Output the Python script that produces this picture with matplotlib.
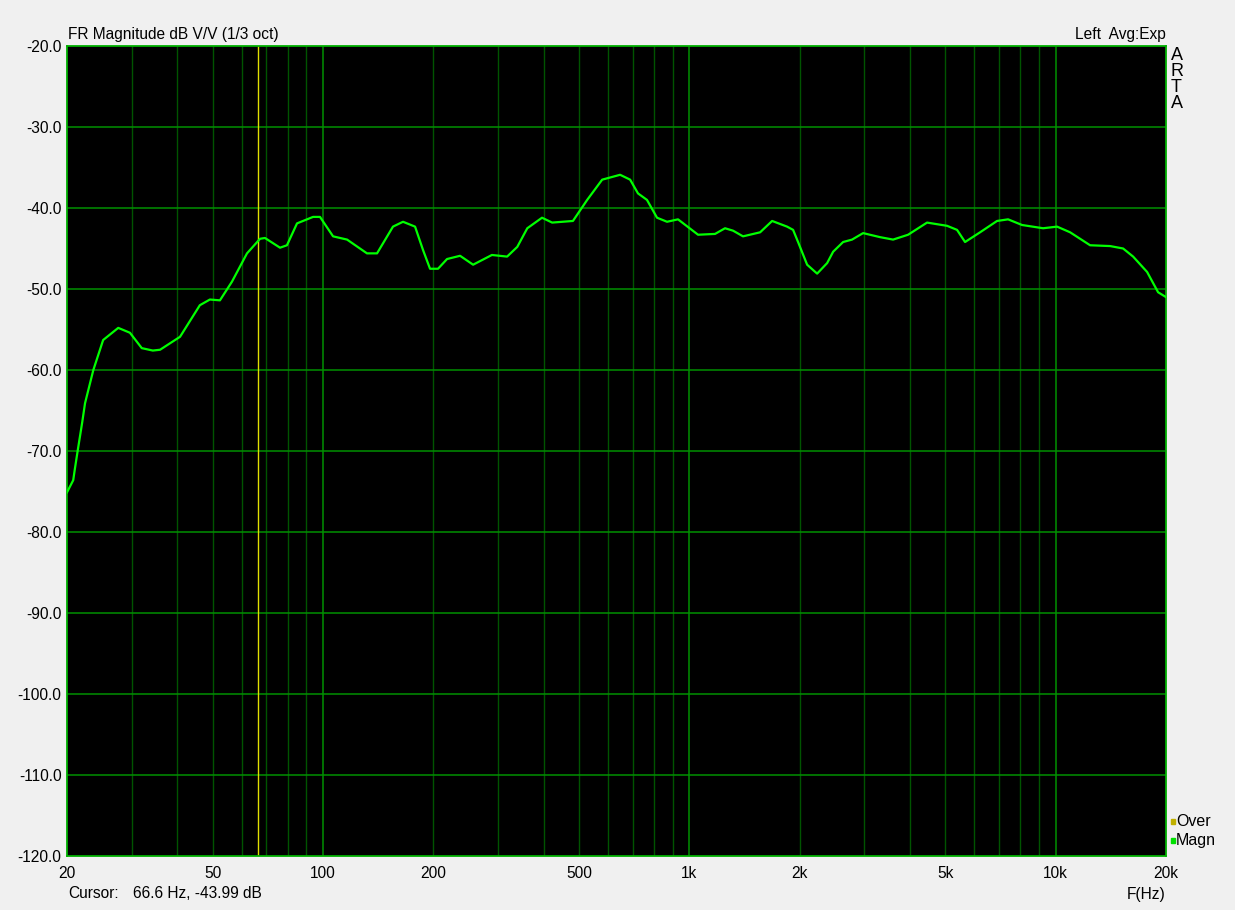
import matplotlib
matplotlib.use("Agg")
import matplotlib.pyplot as plt
from matplotlib.ticker import FixedLocator, NullFormatter

# frequency response (1/3 oct smoothed)
freq = [20, 20.8, 21.0, 21.4, 22.0, 22.4, 23.6, 25.1, 27.6, 29.7, 32.0, 34.3, 35.9,
        40.7, 46.1, 49.1, 52.3, 56.4, 62.0, 67.3, 69.4, 76.3, 79.7, 84.9, 93.9,
        98.1, 106.5, 116.3, 131.8, 140.4, 155.2, 165.3, 178.3, 187.5, 195.9, 206,
        218, 236.6, 256.8, 289, 318, 339, 361, 396, 422, 481, 526, 578, 647, 689,
        724, 766, 816, 869, 931, 1056, 1175, 1251, 1316, 1401, 1560, 1682, 1848,
        1919, 1980, 2096, 2232, 2377, 2468, 2628, 2780, 2980, 3316, 3598, 3954,
        4454, 5052, 5378, 5656, 6216, 6916, 7412, 8094, 9234, 10086, 10946, 12412,
        14076, 15274, 16266, 17762, 19030, 20000]
mag = [-75.1, -73.6, -72.3, -69.9, -66.5, -64.1, -60.0, -56.3, -54.8, -55.4, -57.3,
       -57.6, -57.5, -55.9, -52.0, -51.3, -51.4, -49.1, -45.6, -43.8, -43.7, -44.9,
       -44.6, -41.9, -41.1, -41.1, -43.5, -43.9, -45.6, -45.6, -42.3, -41.7, -42.3,
       -45.2, -47.5, -47.5, -46.3, -45.9, -47.0, -45.8, -46.0, -44.8, -42.5, -41.2,
       -41.8, -41.6, -39.0, -36.5, -35.9, -36.5, -38.2, -39.0, -41.2, -41.7, -41.4,
       -43.3, -43.2, -42.5, -42.8, -43.5, -43.0, -41.6, -42.3, -42.7, -44.2, -47.0,
       -48.1, -46.8, -45.4, -44.2, -43.9, -43.1, -43.6, -43.9, -43.3, -41.8, -42.2,
       -42.7, -44.2, -43.0, -41.6, -41.4, -42.1, -42.5, -42.3, -43.0, -44.6, -44.7,
       -45.0, -46.0, -47.9, -50.4, -51.0]

xticks = [20, 50, 100, 200, 500, 1000, 2000, 5000, 10000, 20000]
xlabels = ["20", "50", "100", "200", "500", "1k", "2k", "5k", "10k", "20k"]
yticks = list(range(-120, -19, 10))
cursor_f = 66.6
cursor_db = -43.99

plt.rcParams['font.family'] = ['Liberation Sans', 'DejaVu Sans']
fs = 11.2
fig = plt.figure(figsize=(12.35, 9.10), dpi=100, facecolor='#f0f0f0')
ax = fig.add_axes([67/1235, 54/910, 1099/1235, 810/910])
ax.set_facecolor('black')
ax.set_xscale('log')
ax.set_xlim(20, 20000)
ax.set_ylim(-120, -20)

# grid: decades and dB lines brighter, the rest darker
minor = []
for dec in [10, 100, 1000, 10000]:
    for m in range(2, 10):
        f = dec * m
        if 20 < f < 20000:
            minor.append(f)
for f in minor:
    ax.axvline(f, color='#005400', lw=1.0, zorder=1)
for f in [100, 1000, 10000]:
    ax.axvline(f, color='#009000', lw=1.1, zorder=1)
for y in yticks[1:-1]:
    ax.axhline(y, color='#009000', lw=1.1, zorder=1)

ax.axvline(cursor_f, color='#e0e000', lw=1.0, zorder=2)
ax.plot(freq, mag, color='#00ff00', lw=1.6, zorder=3)

for s in ax.spines.values():
    s.set_color('#00b000')
    s.set_linewidth(1.3)

ax.xaxis.set_major_locator(FixedLocator(xticks))
ax.set_xticklabels(xlabels)
ax.xaxis.set_minor_formatter(NullFormatter())
ax.xaxis.set_minor_locator(FixedLocator([]))
ax.set_yticks(yticks)
ax.set_yticklabels(["%.1f" % v for v in yticks])
ax.tick_params(axis='y', length=0, labelsize=fs, colors='black', pad=4)
ax.tick_params(axis='x', length=0, labelsize=fs, colors='black', pad=7)

fig.text(68/1235, 1 - 34/910, "FR Magnitude dB V/V (1/3 oct)", fontsize=fs, va='center')
fig.text(1166/1235, 1 - 34/910, "Left  Avg:Exp", fontsize=fs, va='center', ha='right')
for i, ch in enumerate("ARTA"):
    fig.text(1171/1235, 1 - (55 + i * 16)/910, ch, fontsize=13, va='center')
fig.text(1176/1235, 1 - 821/910, "Over", fontsize=11.5, va='center')
fig.text(1176/1235, 1 - 840/910, "Magn", fontsize=11.5, va='center')
fig.patches.append(plt.Rectangle((1171/1235, 1 - 824/910), 4/1235, 5/910,
                                 transform=fig.transFigure, color='#c0b000'))
fig.patches.append(plt.Rectangle((1171/1235, 1 - 843/910), 4/1235, 5/910,
                                 transform=fig.transFigure, color='#00e000'))
fig.text(68/1235, 1 - 894/910, "Cursor:", fontsize=fs, va='center')
fig.text(133/1235, 1 - 894/910, "%.1f Hz, %.2f dB" % (cursor_f, cursor_db),
         fontsize=fs, va='center')
fig.text(1166/1235, 1 - 894/910, "F(Hz)", fontsize=fs, va='center', ha='right')

fig.savefig("out.png", dpi=100, facecolor=fig.get_facecolor())
